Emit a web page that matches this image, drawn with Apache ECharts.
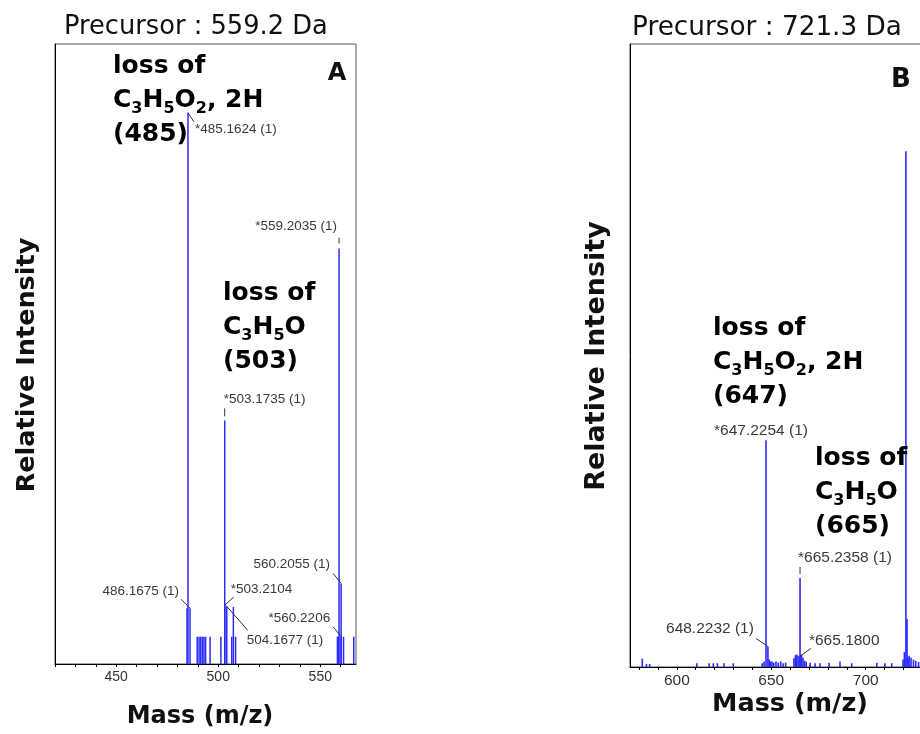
<!DOCTYPE html>
<html>
<head>
<meta charset="utf-8">
<script src="https://cdn.jsdelivr.net/npm/echarts@6/dist/echarts.min.js"></script>
<style>
  html, body { margin: 0; padding: 0; background: #fff; }
  #chart { width: 920px; height: 734px; }
</style>
</head>
<body>
<div id="chart"></div>
<script>
// ---- Panel A: product ions of precursor 559.2 Da ----
const massA = [484.7, 485.1624, 486.1675, 489.7, 490.6, 491.4, 492.2, 493.0, 493.8, 496.0,
  501.3, 503.1735, 503.2104, 504.1677, 506.6, 507.4, 508.5, 558.4, 558.9, 559.2035,
  560.2055, 560.2206, 561.4, 566.4];
const intensityA = [9.0, 88.9, 9.0, 4.4, 4.4, 4.4, 4.4, 4.4, 4.4, 4.4,
  4.4, 39.3, 9.5, 9.3, 4.4, 9.2, 4.4, 4.4, 4.4, 67.0,
  13.0, 4.4, 4.4, 4.4];
const peakLabelMassA = [485.1624, 559.2035, 503.1735, 486.1675, 503.2104, 504.1677, 560.2055, 560.2206];
const peakLabelTextA = ['*485.1624 (1)', '*559.2035 (1)', '*503.1735 (1)', '486.1675 (1)',
  '*503.2104', '504.1677 (1)', '560.2055 (1)', '*560.2206'];
const tickValuesA = [420, 430, 440, 450, 460, 470, 480, 490, 500, 510, 520, 530, 540, 550, 560];
const tickLabelsA = [450, 500, 550];

// ---- Panel B: product ions of precursor 721.3 Da ----
const massB = [581.7, 583.9, 585.6, 610.6, 617.1, 619.3, 621.5, 625.0, 629.9, 645.2,
  646.2, 647.2254, 648.2232, 648.9, 649.6, 650.4, 651.3, 652.5, 653.7, 655.0,
  656.3, 657.6, 662.0, 662.8, 663.5, 664.2, 665.18, 665.2358, 666.0, 666.8,
  667.6, 668.5, 670.6, 673.2, 675.8, 680.6, 686.4, 692.6, 705.9, 710.2,
  713.8, 719.8, 720.5, 721.3, 721.9, 722.4, 723.0, 724.0, 725.3, 726.5, 728.0];
const intensityB = [1.35, 0.5, 0.5, 0.6, 0.6, 0.6, 0.6, 0.6, 0.6, 0.6,
  0.9, 36.4, 3.3, 1.2, 0.9, 0.9, 0.7, 0.9, 0.7, 0.9,
  0.6, 0.7, 1.4, 1.9, 2.0, 1.8, 1.7, 14.3, 2.0, 1.5,
  1.0, 0.9, 0.7, 0.6, 0.6, 0.7, 0.9, 0.6, 0.7, 0.6,
  0.6, 1.2, 2.4, 82.8, 7.7, 1.5, 1.8, 1.5, 1.2, 1.0, 0.8];
const peakLabelMassB = [647.2254, 665.2358, 648.2232, 665.18];
const peakLabelTextB = ['*647.2254 (1)', '*665.2358 (1)', '648.2232 (1)', '*665.1800'];
const tickValuesB = [580, 590, 600, 610, 620, 630, 640, 650, 660, 670, 680, 690, 700, 710, 720, 730, 740, 750];
const tickLabelsB = [600, 650, 700, 750];

// label placement relative to the peak apex (pixels): text anchor, alignment, connector
const labelLayoutA = [
  { tx: 7, ty: 16, align: 'left', line: [0, 0, 6, 9] },
  { tx: -2, ty: -22, align: 'right', line: [0, -11, 0, -5] },
  { tx: -1, ty: -21, align: 'left', line: [0, -12, 0, -4] },
  { tx: -11, ty: -17, align: 'right', line: [-9, -9, 0, 0] },
  { tx: 6, ty: -16, align: 'left', line: [9, -8, 0, 0] },
  { tx: 20, ty: 34, align: 'left', line: [21, 24, 0, 0] },
  { tx: -11, ty: -19, align: 'right', line: [-8, -10, 0, 0] },
  { tx: -11, ty: -18, align: 'right', line: [-8, -10, 0, 0] }
];
const labelLayoutB = [
  { tx: -52, ty: -10, align: 'left', line: null },
  { tx: -2, ty: -20, align: 'left', line: [0, -11, 0, -4] },
  { tx: -14, ty: -18, align: 'right', line: [-12, -8, 0, 0] },
  { tx: 9, ty: -16, align: 'left', line: [11, -8, 0, 0] }
];

const STICK_COLOR = '#2b2bff';
const LABEL_FONT = '"Liberation Sans", Arial, sans-serif';
const HEAD_FONT = '"DejaVu Sans", sans-serif';

function stickSeries(idx, mass, intensity, width) {
  return {
    type: 'custom',
    xAxisIndex: idx,
    yAxisIndex: idx,
    silent: true,
    clip: true,
    data: mass.map((m, i) => [m, intensity[i]]),
    renderItem(params, api) {
      const top = api.coord([api.value(0), api.value(1)]);
      const base = api.coord([api.value(0), 0]);
      return {
        type: 'rect',
        shape: { x: top[0] - width / 2, y: top[1], width: width, height: base[1] - top[1] },
        style: { fill: STICK_COLOR }
      };
    }
  };
}

function peakLabelSeries(idx, labelMass, labelText, mass, intensity, layout, fontSize) {
  return {
    type: 'custom',
    xAxisIndex: idx,
    yAxisIndex: idx,
    silent: true,
    z: 5,
    data: labelMass.map((m, i) => [m, intensity[mass.indexOf(m)], i]),
    renderItem(params, api) {
      const i = api.value(2);
      const p = api.coord([api.value(0), api.value(1)]);
      const L = layout[i];
      const children = [{
        type: 'text',
        x: p[0] + L.tx,
        y: p[1] + L.ty,
        style: {
          text: labelText[i],
          fill: '#3a3a3a',
          font: fontSize + 'px ' + LABEL_FONT,
          align: L.align,
          verticalAlign: 'middle'
        }
      }];
      if (L.line) {
        children.push({
          type: 'line',
          shape: { x1: p[0] + L.line[0], y1: p[1] + L.line[1], x2: p[0] + L.line[2], y2: p[1] + L.line[3] },
          style: { stroke: '#333', lineWidth: 1 }
        });
      }
      return { type: 'group', children: children };
    }
  };
}

function xAxisCfg(idx, min, max, ticks, labels, fontSize, margin) {
  return {
    gridIndex: idx,
    type: 'value',
    min: min,
    max: max,
    axisLine: { show: true, onZero: false, lineStyle: { color: '#000', width: 1 } },
    axisTick: { show: true, customValues: ticks, length: 3, lineStyle: { color: '#000' } },
    axisLabel: { customValues: labels, color: '#333', fontSize: fontSize, fontFamily: LABEL_FONT, margin: margin },
    splitLine: { show: false }
  };
}

function yAxisCfg(idx) {
  return {
    gridIndex: idx,
    type: 'value',
    min: 0,
    max: 100,
    axisLine: { show: true, lineStyle: { color: '#000', width: 1 } },
    axisTick: { show: false },
    axisLabel: { show: false },
    splitLine: { show: false }
  };
}

function formulaBlock(x, y, lines) {
  return {
    type: 'text',
    x: x,
    y: y,
    z: 10,
    style: {
      text: lines.join('\n'),
      align: 'left',
      verticalAlign: 'top',
      rich: {
        n: { fontFamily: HEAD_FONT, fontWeight: 'bold', fontSize: 25, lineHeight: 34, color: '#000' },
        s: { fontFamily: HEAD_FONT, fontWeight: 'bold', fontSize: 16, lineHeight: 20, verticalAlign: 'bottom', color: '#000' }
      }
    }
  };
}

function plainText(x, y, text, font, align, rotation) {
  return {
    type: 'text',
    x: x,
    y: y,
    rotation: rotation || 0,
    z: 10,
    style: { text: text, font: font, fill: '#111', align: align || 'left', verticalAlign: 'middle' }
  };
}

const chart = echarts.init(document.getElementById('chart'), null, { renderer: 'canvas' });

chart.setOption({
  animation: false,
  backgroundColor: '#fff',
  grid: [
    { left: 55, top: 44, width: 301, height: 620, show: true, borderColor: '#555', borderWidth: 1,
      outerBoundsMode: 'none', containLabel: false },
    { left: 630, top: 44, width: 349, height: 623, show: true, borderColor: '#555', borderWidth: 1,
      outerBoundsMode: 'none', containLabel: false }
  ],
  xAxis: [
    xAxisCfg(0, 420, 567.5, tickValuesA, tickLabelsA, 14, 6),
    xAxisCfg(1, 575.2, 760, tickValuesB, tickLabelsB, 15.5, 6)
  ],
  yAxis: [yAxisCfg(0), yAxisCfg(1)],
  series: [
    stickSeries(0, massA, intensityA, 1.5),
    stickSeries(1, massB, intensityB, 1.6),
    peakLabelSeries(0, peakLabelMassA, peakLabelTextA, massA, intensityA, labelLayoutA, 13.5),
    peakLabelSeries(1, peakLabelMassB, peakLabelTextB, massB, intensityB, labelLayoutB, 15.5)
  ],
  graphic: [
    plainText(64, 27, 'Precursor : 559.2 Da', '25.7px ' + HEAD_FONT),
    plainText(632, 28, 'Precursor : 721.3 Da', '26.3px ' + HEAD_FONT),
    plainText(337, 74, 'A', 'bold 24px ' + HEAD_FONT, 'center'),
    plainText(901, 80, 'B', 'bold 26px ' + HEAD_FONT, 'center'),
    plainText(27, 365, 'Relative Intensity', 'bold 25.5px ' + HEAD_FONT, 'center', Math.PI / 2),
    plainText(597, 356, 'Relative Intensity', 'bold 27px ' + HEAD_FONT, 'center', Math.PI / 2),
    plainText(200, 717, 'Mass (m/z)', 'bold 24px ' + HEAD_FONT, 'center'),
    plainText(790, 704, 'Mass (m/z)', 'bold 25.5px ' + HEAD_FONT, 'center'),
    formulaBlock(113, 49, ['{n|loss of}', '{n|C}{s|3}{n|H}{s|5}{n|O}{s|2}{n|, 2H}', '{n|(485)}']),
    formulaBlock(223, 276, ['{n|loss of}', '{n|C}{s|3}{n|H}{s|5}{n|O}', '{n|(503)}']),
    formulaBlock(713, 311, ['{n|loss of}', '{n|C}{s|3}{n|H}{s|5}{n|O}{s|2}{n|, 2H}', '{n|(647)}']),
    formulaBlock(815, 441, ['{n|loss of}', '{n|C}{s|3}{n|H}{s|5}{n|O}', '{n|(665)}'])
  ]
});
</script>
</body>
</html>
